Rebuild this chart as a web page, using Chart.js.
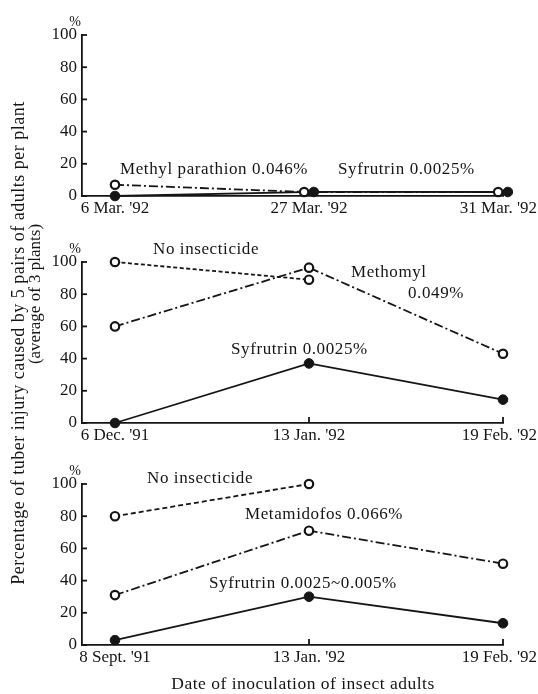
<!DOCTYPE html>
<html>
<head>
<meta charset="utf-8">
<script src="https://cdn.jsdelivr.net/npm/chart.js@4.4.1/dist/chart.umd.min.js"></script>
<style>
  body { margin: 0; background: #fff; }
  #wrap { position: relative; width: 538px; height: 694px; font-family: "Liberation Serif", serif; color: #151515; }
  canvas { position: absolute; left: 0; }
  .ytitle { position: absolute; white-space: nowrap; transform: translate(-50%, -50%) rotate(-90deg); }
  #xtitle { position: absolute; left: 34px; width: 538px; top: 673px; text-align: center; font-size: 17.5px; letter-spacing: 0.5px; }
</style>
</head>
<body>
<div id="wrap">
  <canvas id="c1" width="538" height="225" style="top:0px"></canvas>
  <canvas id="c2" width="538" height="225" style="top:225px"></canvas>
  <canvas id="c3" width="538" height="244" style="top:450px"></canvas>
  <div class="ytitle" style="left:18px; top:343px; font-size:18px; letter-spacing:0.5px">Percentage of tuber injury caused by 5 pairs of adults per plant</div>
  <div class="ytitle" style="left:35px; top:294px; font-size:17px">(average of 3 plants)</div>
  <div id="xtitle">Date of inoculation of insect adults</div>
</div>
<script>
// tick labels
const yTicks = [0, 20, 40, 60, 80, 100];

// top panel
const datesA = ["6 Mar. '92", "27 Mar. '92", "31 Mar. '92"];
const methylParathionA = [7, 2.5, 2.5];
const syfrutrinA = [0, 2.5, 2.5];

// middle panel
const datesB = ["6 Dec. '91", "13 Jan. '92", "19 Feb. '92"];
const noInsecticideB = [100, 89, null];
const methomylB = [60, 96.5, 43];
const syfrutrinB = [0, 37, 14.5];

// bottom panel
const datesC = ["8 Sept. '91", "13 Jan. '92", "19 Feb. '92"];
const noInsecticideC = [80, 100, null];
const metamidofosC = [31, 71, 50.5];
const syfrutrinC = [3, 30, 13.5];

const ink = '#151515';
const font = '"Liberation Serif", serif';
const dashDot = [9, 3, 2, 3];

// markers that sit on top of each other get pushed a little apart
function toPoints(values, other, side) {
  return values.map((v, i) => {
    if (v == null) return null;
    let shift = 0;
    if (other && other[i] != null && Math.abs(other[i] - v) < 2) shift = side * 0.025;
    return { x: i + shift, y: v };
  }).filter(p => p);
}

function line(points, open, dash) {
  return {
    data: points,
    borderColor: ink,
    borderWidth: 1.8,
    borderDash: dash,
    pointRadius: open ? 4.2 : 4.8,
    pointBorderWidth: open ? 2.2 : 1,
    pointBorderColor: ink,
    pointBackgroundColor: open ? '#fff' : ink,
    tension: 0,
    clip: false
  };
}

const inkPlugin = {
  id: 'ink',
  afterDraw(chart, args, opts) {
    const { ctx, scales: { x, y } } = chart;
    ctx.save();
    ctx.strokeStyle = ink;
    ctx.lineWidth = 1.8;
    // inward ticks on the y axis
    yTicks.forEach(v => {
      const py = y.getPixelForValue(v);
      ctx.beginPath(); ctx.moveTo(x.left, py); ctx.lineTo(x.left + 5, py); ctx.stroke();
    });
    // small upward ticks on the date axis
    opts.dates.forEach((d, i) => {
      if (i === 0) return;
      const px = x.getPixelForValue(i);
      ctx.beginPath(); ctx.moveTo(px, y.bottom); ctx.lineTo(px, y.bottom - 6); ctx.stroke();
    });
    ctx.fillStyle = ink;
    ctx.textBaseline = 'middle';
    ctx.font = '17px ' + font;
    ctx.textAlign = 'center';
    opts.dates.forEach((d, i) => {
      const w = ctx.measureText(d).width;
      let cx = x.getPixelForValue(i);
      cx = Math.min(cx, chart.width - 1 - w / 2);
      ctx.fillText(d, cx, y.bottom + 13);
    });
    ctx.font = '14px ' + font;
    ctx.fillText('%', x.left - 7, y.top - 13);
    ctx.font = '17px ' + font;
    ctx.letterSpacing = '0.6px';
    ctx.textAlign = 'left';
    opts.notes.forEach(n => ctx.fillText(n.text, n.x, n.y));
    ctx.restore();
  }
};

function panel(id, dates, datasets, notes, padTop, padBottom) {
  new Chart(document.getElementById(id), {
    type: 'line',
    data: { datasets: datasets },
    options: {
      responsive: false,
      animation: false,
      events: [],
      layout: { padding: { left: 42, right: 35, top: padTop, bottom: padBottom } },
      plugins: { legend: { display: false }, tooltip: { enabled: false }, ink: { dates: dates, notes: notes } },
      scales: {
        x: {
          type: 'linear', min: -0.17, max: 2,
          grid: { display: false, drawTicks: false },
          ticks: { display: false },
          border: { color: ink, width: 1.8 },
          afterFit: s => { s.height = 0; }
        },
        y: {
          min: 0, max: 100,
          afterBuildTicks: s => { s.ticks = yTicks.map(v => ({ value: v })); },
          ticks: { color: ink, font: { family: font, size: 17 }, padding: 5 },
          grid: { display: false, drawTicks: false },
          border: { color: ink, width: 1.8 },
          afterFit: s => { s.width = 40; }
        }
      }
    },
    plugins: [inkPlugin]
  });
}

panel('c1', datesA, [
  line(toPoints(methylParathionA, syfrutrinA, -1), true, dashDot),
  line(toPoints(syfrutrinA, methylParathionA, 1), false, [])
], [
  { text: 'Methyl parathion 0.046%', x: 120, y: 170 },
  { text: 'Syfrutrin 0.0025%', x: 338, y: 170 }
], 35, 29);

panel('c2', datesB, [
  line(toPoints(noInsecticideB), true, [4, 2.5]),
  line(toPoints(methomylB), true, dashDot),
  line(toPoints(syfrutrinB), false, [])
], [
  { text: 'No insecticide', x: 153, y: 25 },
  { text: 'Methomyl', x: 351, y: 48 },
  { text: '0.049%', x: 408, y: 69 },
  { text: 'Syfrutrin 0.0025%', x: 231, y: 125 }
], 37, 27);

panel('c3', datesC, [
  line(toPoints(noInsecticideC), true, [5, 3]),
  line(toPoints(metamidofosC), true, dashDot),
  line(toPoints(syfrutrinC), false, [])
], [
  { text: 'No insecticide', x: 147, y: 29 },
  { text: 'Metamidofos 0.066%', x: 245, y: 65 },
  { text: 'Syfrutrin 0.0025~0.005%', x: 209, y: 134 }
], 34, 49);
</script>
</body>
</html>
